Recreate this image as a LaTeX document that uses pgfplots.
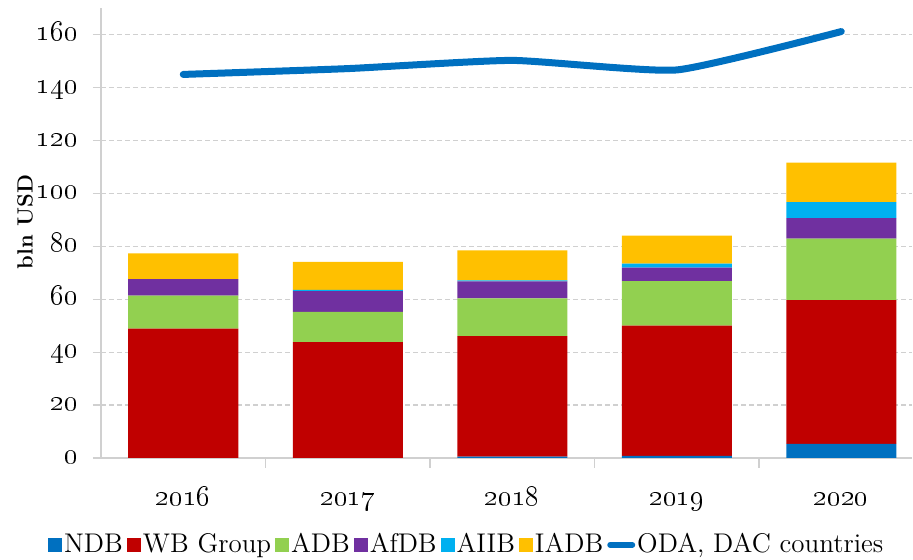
\documentclass[border=0pt]{standalone}
\usepackage{pgfplots}
\pgfplotsset{compat=1.18}
\definecolor{cNDB}{HTML}{0070C0}
\definecolor{cWB}{HTML}{C00000}
\definecolor{cADB}{HTML}{92D050}
\definecolor{cAfDB}{HTML}{7030A0}
\definecolor{cAIIB}{HTML}{00B0F0}
\definecolor{cIADB}{HTML}{FFC000}
\definecolor{axgray}{HTML}{D0D0D0}
\begin{document}
\begin{tikzpicture}
\begin{axis}[
  name=main,
  scale only axis, width=405.5pt, height=225pt,
  ybar stacked, bar width=55pt,
  xmin=-0.5, xmax=4.43, ymin=0, ymax=170,
  axis lines*=left,
  axis line style={axgray, line width=0.8pt},
  xtick={0,1,2,3,4},
  xticklabels={\oldstylenums{2016},\oldstylenums{2017},\oldstylenums{2018},\oldstylenums{2019},\oldstylenums{2020}},
  xticklabel style={font=\fontsize{15}{17}\selectfont, anchor=base, yshift=-20pt},
  major x tick style={draw=none},
  minor xtick={0.5,1.5,2.5,3.5},
  minor x tick style={axgray, line width=0.8pt},
  minor tick length=5pt,
  tick align=outside,
  ytick={0,20,40,60,80,100,120,140,160},
  yticklabels={\oldstylenums{0},\oldstylenums{20},\oldstylenums{40},\oldstylenums{60},\oldstylenums{80},\oldstylenums{100},\oldstylenums{120},\oldstylenums{140},\oldstylenums{160}},
  yticklabel style={font=\fontsize{14}{16}\selectfont, xshift=-4pt, text height=0.8em, text depth=0.23em},
  major y tick style={axgray, line width=0.6pt},
  major tick length=4pt,
  ymajorgrids,
  grid style={axgray, dash pattern=on 2.5pt off 1.5pt, line width=0.6pt},
  ylabel={\bfseries bln USD},
  ylabel style={font=\fontsize{11}{13}\selectfont, at={(axis description cs:0,0.524)}, yshift=38pt, anchor=center},
  legend columns=7,
  legend style={draw=none, fill=none, at={(0.451,-0.193)}, anchor=center,
    font=\fontsize{13.5}{15}\selectfont,
    /tikz/every odd column/.append style={column sep=0pt},
    /tikz/every even column/.append style={column sep=1pt},
    inner sep=0pt,
    nodes={inner sep=1pt}},
  legend image code/.code={\fill[#1] (0pt,-3.5pt) rectangle (7pt,3.5pt);},
]
\addplot[fill=cNDB, draw=none] coordinates {(0,0) (1,0) (2,0.5) (3,0.8) (4,5.3)};
\addplot[fill=cWB, draw=none] coordinates {(0,48.9) (1,43.8) (2,45.5) (3,49.2) (4,54.3)};
\addplot[fill=cADB, draw=none] coordinates {(0,12.4) (1,11.4) (2,14.3) (3,16.8) (4,23.3)};
\addplot[fill=cAfDB, draw=none] coordinates {(0,6.3) (1,7.8) (2,6.4) (3,5.1) (4,7.7)};
\addplot[fill=cAIIB, draw=none] coordinates {(0,0) (1,0.5) (2,0.4) (3,1.5) (4,6.1)};
\addplot[fill=cIADB, draw=none] coordinates {(0,9.7) (1,10.6) (2,11.3) (3,10.6) (4,14.9)};
\addlegendimage{legend image code/.code={\draw[cNDB, line width=3pt, line cap=round] (1pt,0pt) -- (12pt,0pt);}}
\legend{NDB,WB Group,ADB,AfDB,AIIB,IADB,{ODA, DAC countries}}
\end{axis}
\begin{axis}[
  scale only axis, width=405.5pt, height=225pt,
  xmin=-0.5, xmax=4.43, ymin=0, ymax=170,
  hide axis,
]
\addplot[cNDB, line width=3.5pt, line cap=round, smooth, tension=0.3] coordinates {(0,144.9) (1,147.1) (2,150.2) (3,146.6) (4,161.1)};
\end{axis}
\path (main.south west) ++(-50.5pt,-51pt) rectangle ++(456.5pt,280pt);
\end{tikzpicture}
\end{document}
